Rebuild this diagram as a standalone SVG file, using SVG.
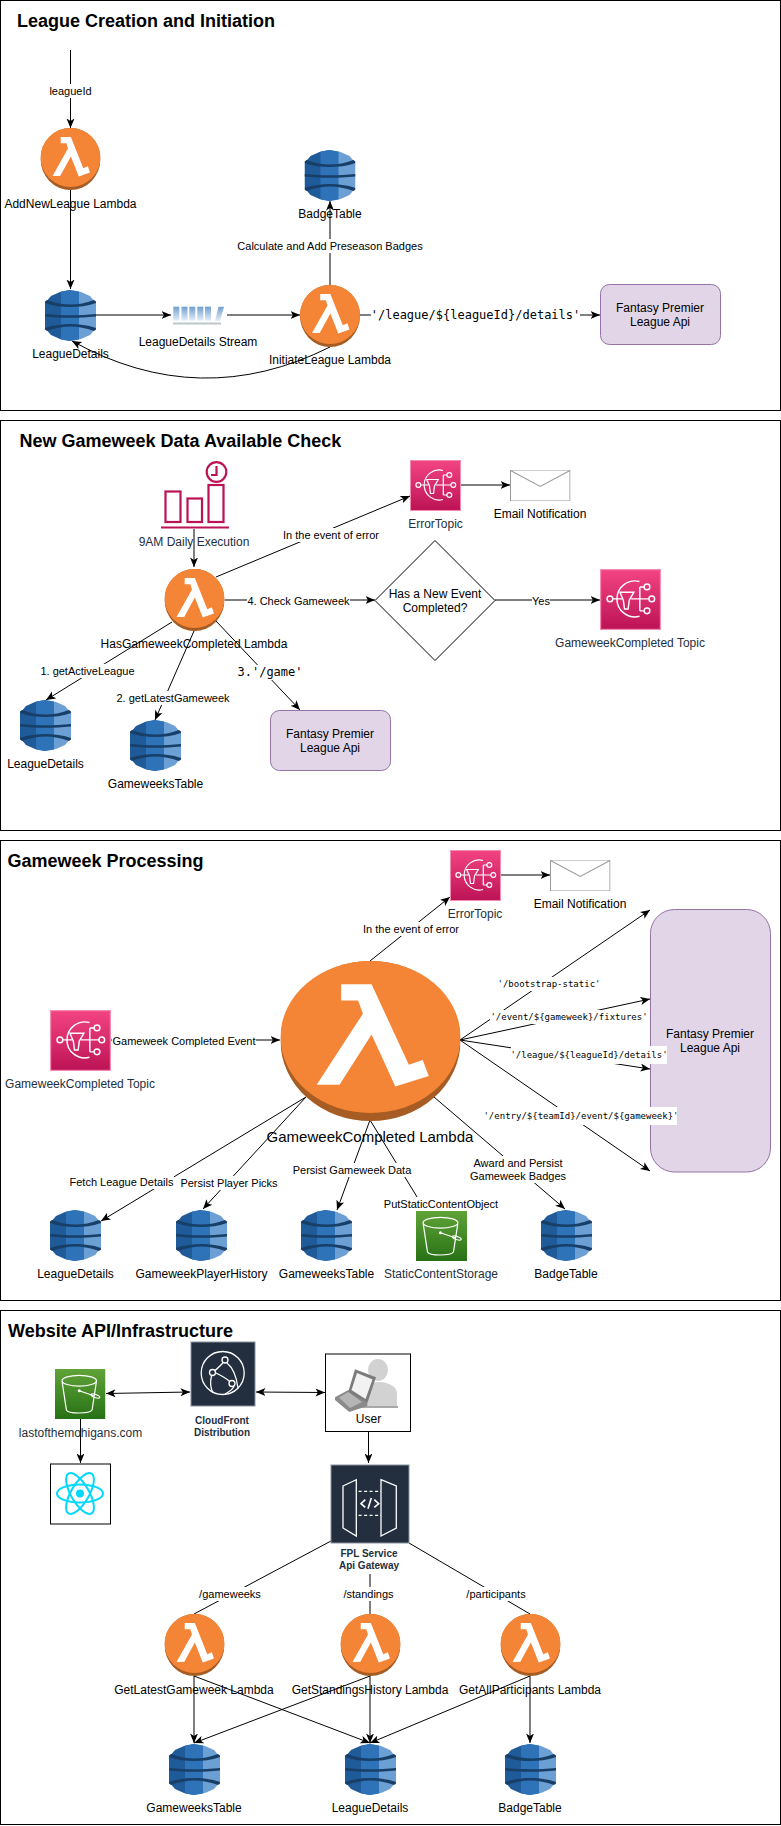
<svg xmlns="http://www.w3.org/2000/svg" width="781" height="1826" viewBox="0 0 781 1826">
<style>
text{font-family:"Liberation Sans",Arial,sans-serif;fill:#000;text-anchor:middle;dominant-baseline:central}
.t{font-size:18px;font-weight:bold;text-anchor:start;dominant-baseline:auto}
.n{font-size:12px}
.d{fill:#232F3E}
.e{font-size:11px}
.s{font-size:10px;font-weight:bold;fill:#232F3E}
.m{font-family:"DejaVu Sans Mono","Liberation Mono",monospace}
.m12{font-size:12px}
.m9{font-size:9px}
.lb{fill:#fff}
.frame{fill:none;stroke:#000;stroke-width:1}
.c{fill:none;stroke:#000;stroke-width:1}
.a{marker-end:url(#arr)}
.b{marker-start:url(#arrs);marker-end:url(#arr)}
.api{fill:#e1d5e7;stroke:#9673a6;stroke-width:1}
.mail{fill:#fff;stroke:#999;stroke-width:1}
.box{fill:#fff;stroke:#000;stroke-width:1}
.sc{fill:none;stroke:#BC1356;stroke-width:2.2}
</style>
<defs>
<marker id="arr" viewBox="0 0 10 10" refX="9.5" refY="5" markerWidth="10" markerHeight="10" markerUnits="userSpaceOnUse" orient="auto"><path d="M0 1 L9.5 5 L0 9 L2.4 5 Z" fill="#000"/></marker>
<marker id="arrs" viewBox="0 0 10 10" refX="0.5" refY="5" markerWidth="10" markerHeight="10" markerUnits="userSpaceOnUse" orient="auto"><path d="M10 1 L0.5 5 L10 9 L7.6 5 Z" fill="#000"/></marker>
<linearGradient id="gs" x1="0" y1="0" x2="0" y2="1"><stop offset="0" stop-color="#F34482"/><stop offset="1" stop-color="#BC1356"/></linearGradient>
<linearGradient id="g3" x1="0" y1="0" x2="0" y2="1"><stop offset="0" stop-color="#60A337"/><stop offset="1" stop-color="#277116"/></linearGradient>
<linearGradient id="gk" x1="0" y1="0" x2="0" y2="1"><stop offset="0" stop-color="#6F9FD0"/><stop offset="1" stop-color="#E6EEF7"/></linearGradient>
<symbol id="lambda" viewBox="0 0 100 100" preserveAspectRatio="none">
<ellipse cx="50" cy="50" rx="50" ry="50" fill="#A65C22"/>
<ellipse cx="50" cy="47.5" rx="50" ry="47.5" fill="#F58536"/>
<path d="M33.7 14.5H50.6L71.3 64.8L79 61.8L82.4 71.9L63.8 78.4L50.6 45.9L32.8 77.4H20.1L45.8 32.9L43.1 24.7H33.7Z" fill="#fff"/>
</symbol>
<symbol id="dynamo" viewBox="0 0 51 51" preserveAspectRatio="none">
<path d="M15 2 L25 0 L25 51 L15 49 L6 45 L0 38 L0 13 L6 6Z" fill="#205B99"/>
<path d="M36 2 L25 0 L25 51 L36 49 L45 45 L51 38 L51 13 L45 6Z" fill="#6C9FD4"/>
<path d="M16 1.500 L25 0 L34 1.500 L34 49.500 L25 51 L16 49.500Z" fill="#2E73B8"/>
<path d="M0 11.500 L2 10 C10 13 18 14.500 25.500 14.500 C33 14.500 41 13 49 10 L51 11.500 L51 13 C42 16 34 17 25.500 17 C17 17 9 16 0 13Z" fill="#173F68"/>
<path d="M0 24 C9 25 17 25.200 25.500 25.200 C34 25.200 42 25 51 24 L51 26.500 C42 27.500 34 27.800 25.500 27.800 C17 27.800 9 27.500 0 26.500Z" fill="#173F68"/>
<path d="M0 38 C9 35 17 34 25.500 34 C34 34 42 35 51 38 L51 39.500 L49 41 C41 38 33 36.500 25.500 36.500 C18 36.500 10 38 2 41 L0 39.500Z" fill="#173F68"/>
</symbol>
<symbol id="sns" viewBox="0 0 51 51" preserveAspectRatio="none">
<rect x=".5" y=".5" width="50" height="50" fill="url(#gs)" stroke="#F58AB0"/>
<g fill="none" stroke="#fff" stroke-width="1.200">
<path d="M33 10.500A15 15 0 1 0 33 39.500"/>
<path d="M16.700 19.500H28.300L24.500 26L23.500 33.500H20.500L19.500 26Z"/>
<path d="M10.700 25H18.500M26 25H41M33.300 15V35M33.300 15H37M33.300 35H37"/>
<circle cx="8.300" cy="25" r="2.400"/><circle cx="39.300" cy="15" r="2.400"/><circle cx="43.300" cy="25" r="2.400"/><circle cx="39.300" cy="35" r="2.400"/>
</g>
</symbol>
<symbol id="s3" viewBox="0 0 50 50" preserveAspectRatio="none">
<rect width="50" height="50" fill="url(#g3)"/>
<g fill="none" stroke="#fff" stroke-width="1.200">
<ellipse cx="24" cy="11.700" rx="17" ry="5.400"/>
<path d="M7 12.500L11.300 41C13 45 34 45 36.700 41L41 12.500"/>
<path d="M24 21.700L39 27"/><ellipse cx="40" cy="27" rx="4.500" ry="1.600" transform="rotate(20 40 27)"/>
</g><circle cx="24" cy="21.700" r="1.500" fill="#fff"/>
</symbol>
<symbol id="mail" viewBox="0 0 60 30" preserveAspectRatio="none">
<rect x=".5" y=".5" width="59" height="29.500" class="mail"/><path d="M.5 .5L30 16L59.500 .5" class="mail" fill="none"/>
</symbol>
</defs>

<g id="frames">
<rect class="frame" x="0.500" y="0.500" width="780" height="410"/>
<rect class="frame" x="0.500" y="420.500" width="780" height="410"/>
<rect class="frame" x="0.500" y="840.500" width="780" height="460"/>
<rect class="frame" x="0.500" y="1310.500" width="780" height="514"/>
</g>

<g id="connectors">
<path class="c a" d="M70.500 50V128"/>
<path class="c a" d="M70.500 190V289"/>
<path class="c a" d="M96 315H171"/>
<path class="c a" d="M227 315H300"/>
<path class="c a" d="M330 347Q200 412 72 341"/>
<path class="c a" d="M330 285V201"/>
<path class="c a" d="M360 315H600"/>

<path class="c a" d="M194 529V567"/>
<path class="c a" d="M216 577L410 496"/>
<path class="c a" d="M461 485H510"/>
<path class="c a" d="M224.500 600H375"/>
<path class="c a" d="M495 600L600 600"/>
<path class="c a" d="M172 622L46 700"/>
<path class="c a" d="M194 631L155 720"/>
<path class="c a" d="M216 621L300 710"/>

<path class="c a" d="M110.500 1040H280"/>
<path class="c a" d="M370 961L450 897"/>
<path class="c a" d="M500.500 875H550"/>
<path class="c a" d="M460 1040L650 910"/>
<path class="c a" d="M460 1040L650 999"/>
<path class="c a" d="M460 1040L650 1069"/>
<path class="c a" d="M460 1040L650 1171"/>
<path class="c a" d="M306 1097L101 1221"/>
<path class="c a" d="M306 1097L203 1209"/>
<path class="c a" d="M370 1120L337 1210"/>
<path class="c" d="M370 1120L425 1210"/>
<path class="c a" d="M434 1097L565 1209"/>

<path class="c a" d="M80.500 1419V1463"/>
<path class="c b" d="M106 1393.500L190 1392"/>
<path class="c b" d="M256 1392L325 1392.500"/>
<path class="c a" d="M368.500 1432V1463"/>
<path class="c" d="M331 1541L194 1614"/>
<path class="c" d="M370 1574V1614"/>
<path class="c" d="M409 1543L530 1614"/>
<path class="c a" d="M194 1676V1743"/>
<path class="c a" d="M194 1676L370 1743"/>
<path class="c a" d="M370 1676L194 1743"/>
<path class="c a" d="M370 1676V1743"/>
<path class="c a" d="M530 1676L370 1743"/>
<path class="c a" d="M530 1676V1743"/>
</g>

<g id="section-1">
<text class="t" x="17" y="26.500">League Creation and Initiation</text>
<g id="n-leagueid-label"><rect class="lb" x="49" y="84" width="44" height="14"/><text class="e" x="70.500" y="91">leagueId</text></g>
<g id="n-addnewleague"><use href="#lambda" x="40.500" y="128" width="60" height="62"/><text class="n" x="70.500" y="204">AddNewLeague Lambda</text></g>
<g id="n-leaguedetails1"><use href="#dynamo" x="45" y="290" width="51" height="51"/><text class="n" x="70.500" y="354">LeagueDetails</text></g>
<g id="n-stream"><g>
<rect x="173.300" y="306.700" width="6" height="14" fill="url(#gk)"/><rect x="181.500" y="306.700" width="6" height="14" fill="url(#gk)"/><rect x="189.300" y="306.700" width="6" height="14" fill="url(#gk)"/><rect x="197.300" y="306.700" width="6" height="14" fill="url(#gk)"/><rect x="205" y="306.700" width="6" height="14" fill="url(#gk)"/>
<path d="M215 321L218.500 306.700H224L220 321Z" fill="url(#gk)"/><rect x="173" y="322.500" width="48" height="2" fill="#BFC6CC"/></g>
<text class="n" x="198" y="342">LeagueDetails Stream</text></g>
<g id="n-initiate"><use href="#lambda" x="300" y="285" width="60" height="62"/><text class="n" x="330" y="360">InitiateLeague Lambda</text></g>
<g id="n-badge1"><use href="#dynamo" x="304.500" y="150" width="51" height="51"/><text class="n" x="330" y="214">BadgeTable</text></g>
<g id="l-1"><rect class="lb" x="237" y="239" width="187" height="14"/><text class="e" x="330" y="246">Calculate and Add Preseason Badges</text></g>
<g id="l-2"><rect class="lb" x="371" y="308" width="209" height="14"/><text class="m m12" x="475.500" y="315">'/league/${leagueId}/details'</text></g>
<g id="n-api1"><rect class="api" x="600.500" y="284.500" width="120" height="60" rx="9"/><text class="n" x="660" y="308">Fantasy Premier</text><text class="n" x="660" y="322">League Api</text></g>
</g>

<g id="section-2">
<text class="t" x="19.500" y="446.500">New Gameweek Data Available Check</text>
<g id="n-schedule">
<rect class="sc" x="165.500" y="491.500" width="15" height="30.500"/><rect class="sc" x="187.500" y="498.500" width="14.500" height="23.500"/><rect class="sc" x="208.500" y="485" width="15" height="37" />
<path class="sc" d="M161 527.500H229" stroke-width="2.800"/>
<circle class="sc" cx="216.500" cy="472" r="9.800"/><path class="sc" d="M216.500 466V475H211" stroke-width="2"/>
<text class="n d" x="194" y="542">9AM Daily Execution</text></g>
<g id="n-hasgameweek"><use href="#lambda" x="164.500" y="569" width="60" height="62"/><text class="n" x="194" y="644">HasGameweekCompleted Lambda</text></g>
<g id="l-3"><rect class="lb" x="282" y="528" width="98" height="14"/><text class="e" x="331" y="535">In the event of error</text></g>
<g id="n-error1"><use href="#sns" x="410" y="460" width="51" height="51"/><text class="n d" x="435.500" y="524">ErrorTopic</text></g>
<g id="n-mail1"><use href="#mail" x="510" y="470" width="60.500" height="31"/><text class="n" x="540" y="514">Email Notification</text></g>
<g id="l-4"><rect class="lb" x="247" y="594" width="103" height="14"/><text class="e" x="298.500" y="601">4. Check Gameweek</text></g>
<g id="n-decision"><path d="M435 540.500L495 600.500L435 660.500L375 600.500Z" fill="#fff" stroke="#000"/><text class="n" x="435" y="594">Has a New Event</text><text class="n" x="435" y="608">Completed?</text></g>
<g id="l-5"><rect class="lb" x="532" y="594" width="18" height="14"/><text class="e" x="541" y="601">Yes</text></g>
<g id="n-completed1"><use href="#sns" x="600" y="569" width="61" height="61"/><text class="n d" x="630" y="643">GameweekCompleted Topic</text></g>
<g id="l-6"><rect class="lb" x="40" y="664" width="95" height="14"/><text class="e" x="87.500" y="671">1. getActiveLeague</text></g>
<g id="n-ld2"><use href="#dynamo" x="20" y="700" width="51" height="51"/><text class="n" x="45.500" y="764">LeagueDetails</text></g>
<g id="l-7"><rect class="lb" x="116" y="691" width="115" height="14"/><text class="e" x="173" y="698">2. getLatestGameweek</text></g>
<g id="n-gw2"><use href="#dynamo" x="130" y="720" width="51" height="51"/><text class="n" x="155.500" y="784">GameweeksTable</text></g>
<g id="l-8"><rect class="lb" x="238" y="665" width="65" height="15"/><text class="m m12" x="270" y="672">3.'/game'</text></g>
<g id="n-api2"><rect class="api" x="270.500" y="710.500" width="120" height="60" rx="9"/><text class="n" x="330" y="734">Fantasy Premier</text><text class="n" x="330" y="748">League Api</text></g>
</g>

<g id="section-3">
<text class="t" x="7.500" y="866.500">Gameweek Processing</text>
<g id="n-completed2"><use href="#sns" x="50" y="1010" width="61" height="61"/><text class="n d" x="80" y="1084">GameweekCompleted Topic</text></g>
<g id="l-9"><rect class="lb" x="112" y="1034" width="144" height="14"/><text class="e" x="184" y="1041">Gameweek Completed Event</text></g>
<g id="n-gwlambda"><use href="#lambda" x="280.500" y="961" width="180" height="160"/><text x="370" y="1136" font-size="15">GameweekCompleted Lambda</text></g>
<g id="l-10"><rect class="lb" x="362" y="922" width="98" height="14"/><text class="e" x="411" y="929">In the event of error</text></g>
<g id="n-error2"><use href="#sns" x="450" y="850" width="51" height="51"/><text class="n d" x="475" y="914">ErrorTopic</text></g>
<g id="n-mail2"><use href="#mail" x="550" y="860" width="60.500" height="31"/><text class="n" x="580" y="904">Email Notification</text></g>
<g id="n-api3"><rect class="api" x="650.500" y="909.500" width="120" height="262.500" rx="24"/><text class="n" x="710" y="1034">Fantasy Premier</text><text class="n" x="710" y="1048">League Api</text></g>
<g id="l-11"><rect class="lb" x="497" y="977" width="103" height="14"/><text class="m m9" x="549" y="984">'/bootstrap-static'</text></g>
<g id="l-12"><rect class="lb" x="490" y="1010" width="158" height="14"/><text class="m m9" x="569" y="1017">'/event/${gameweek}/fixtures'</text></g>
<g id="l-13"><rect class="lb" x="511" y="1046" width="156" height="18"/><text class="m m9" x="589" y="1055">'/league/${leagueId}/details'</text></g>
<g id="l-14"><rect class="lb" x="484" y="1107" width="193" height="18"/><text class="m m9" x="581" y="1116">'/entry/${teamId}/event/${gameweek}'</text></g>
<g id="l-15"><rect class="lb" x="69" y="1175" width="105" height="14"/><text class="e" x="121.500" y="1182">Fetch League Details</text></g>
<g id="l-16"><rect class="lb" x="180" y="1176" width="98" height="14"/><text class="e" x="229" y="1183">Persist Player Picks</text></g>
<g id="l-17"><rect class="lb" x="292" y="1163" width="120" height="14"/><text class="e" x="352" y="1170">Persist Gameweek Data</text></g>
<g id="l-18"><rect class="lb" x="382" y="1197" width="117" height="14"/><text class="e" x="441" y="1204">PutStaticContentObject</text></g>
<g id="l-19"><rect class="lb" x="468" y="1156" width="100" height="27"/><text class="e" x="518" y="1163">Award and Persist</text><text class="e" x="518" y="1176">Gameweek Badges</text></g>
<g id="n-ld3"><use href="#dynamo" x="50" y="1210" width="51" height="51"/><text class="n" x="75.500" y="1274">LeagueDetails</text></g>
<g id="n-gph"><use href="#dynamo" x="176" y="1210" width="51" height="51"/><text class="n" x="201.500" y="1274">GameweekPlayerHistory</text></g>
<g id="n-gw3"><use href="#dynamo" x="301" y="1210" width="51" height="51"/><text class="n" x="326.500" y="1274">GameweeksTable</text></g>
<g id="n-s3a"><use href="#s3" x="416" y="1211" width="51" height="50"/><text class="n d" x="441" y="1274">StaticContentStorage</text></g>
<g id="n-badge3"><use href="#dynamo" x="541" y="1210" width="51" height="51"/><text class="n" x="566" y="1274">BadgeTable</text></g>
</g>

<g id="section-4">
<text class="t" x="8" y="1336.500">Website API/Infrastructure</text>
<g id="n-s3b"><use href="#s3" x="55" y="1369" width="50.500" height="50"/><text class="n d" x="80.500" y="1433">lastofthemohigans.com</text></g>
<g id="n-react"><rect class="box" x="50.500" y="1464" width="60" height="60"/>
<g fill="none" stroke="#00D8FF" stroke-width="2"><ellipse cx="80" cy="1493.500" rx="23" ry="9"/><ellipse cx="80" cy="1493.500" rx="23" ry="9" transform="rotate(60 80 1493.500)"/><ellipse cx="80" cy="1493.500" rx="23" ry="9" transform="rotate(120 80 1493.500)"/></g><circle cx="80" cy="1493.500" r="4" fill="#00D8FF"/></g>
<g id="n-cloudfront"><rect x="191" y="1342" width="64" height="64" fill="#232F3E" stroke="#8A94A0"/>
<g fill="none" stroke="#fff" stroke-width="1.300"><circle cx="222.700" cy="1373" r="21.500"/><circle cx="225" cy="1360" r="3"/><circle cx="212.500" cy="1372.500" r="3"/><circle cx="232" cy="1383.500" r="3"/><path d="M222.800 1363C220 1366 217 1369 214.800 1370.500M216 1373C220 1375 226 1378 229.800 1381.500M227 1363C232 1367 236 1373 238 1388M211.500 1376C210 1382 211 1389 213 1393M234 1386.500C232 1390 229 1392 225 1394"/></g>
<text class="s" x="222" y="1420">CloudFront</text><text class="s" x="222" y="1432">Distribution</text></g>
<g id="n-user"><rect class="box" x="325.500" y="1354" width="85" height="77.500"/>
<ellipse cx="378" cy="1370" rx="10" ry="11" fill="#D2D2D2"/><path d="M365 1408V1392C365 1385 372 1382 378 1382C386 1382 397 1385 397 1394V1408Z" fill="#D2D2D2"/><rect x="362" y="1406" width="36" height="2" fill="#A8A8A8"/>
<path d="M335 1397.300L348.300 1390L367.300 1403.300V1406L349.300 1412L335 1400Z" fill="#8A8A8A"/><path d="M339 1397.500L348.500 1392L362 1402L350 1408Z" fill="#B5B5B5"/>
<path d="M355 1369.300L376 1377.300L367.300 1403.300L348.300 1391.700Z" fill="#7C7C7C"/><path d="M357 1373L372.500 1379.500L365.500 1399L351.500 1390Z" fill="#F2F2F2"/>
<text class="n" x="368.500" y="1419">User</text></g>
<g id="n-apigw"><rect x="331" y="1465" width="78" height="78" fill="#232F3E" stroke="#8A94A0"/>
<g fill="none" stroke="#fff" stroke-width="1.300"><path d="M343 1486L356.300 1479.700V1536L343 1528Z"/><path d="M381 1479.700L396.300 1486V1528L381 1536Z"/><path d="M358.600 1491.300H381M358.600 1515.300H381" stroke-dasharray="3 2.500"/><path d="M365.300 1499.700L361 1503.700L365.300 1507.300M374.300 1499.700L378.700 1503.700L374.300 1507.300M371.300 1498L368 1508.700" stroke-width="1.600"/></g>
<text class="s" x="369" y="1553">FPL Service</text><text class="s" x="369" y="1565.500">Api Gateway</text></g>
<g id="l-20"><rect class="lb" x="199" y="1587" width="62" height="14"/><text class="e" x="230" y="1594">/gameweeks</text></g>
<g id="l-21"><rect class="lb" x="343" y="1587" width="52" height="14"/><text class="e" x="368.500" y="1594">/standings</text></g>
<g id="l-22"><rect class="lb" x="466" y="1587" width="60" height="14"/><text class="e" x="496" y="1594">/participants</text></g>
<g id="n-gl1"><use href="#lambda" x="164.500" y="1614" width="60" height="62"/><text class="n" x="194" y="1690">GetLatestGameweek Lambda</text></g>
<g id="n-gl2"><use href="#lambda" x="340.500" y="1614" width="60" height="62"/><text class="n" x="370" y="1690">GetStandingsHistory Lambda</text></g>
<g id="n-gl3"><use href="#lambda" x="500.500" y="1614" width="60" height="62"/><text class="n" x="530" y="1690">GetAllParticipants Lambda</text></g>
<g id="n-gw4"><use href="#dynamo" x="169" y="1744" width="51" height="51"/><text class="n" x="194" y="1808">GameweeksTable</text></g>
<g id="n-ld4"><use href="#dynamo" x="345" y="1744" width="51" height="51"/><text class="n" x="370" y="1808">LeagueDetails</text></g>
<g id="n-badge4"><use href="#dynamo" x="505" y="1744" width="51" height="51"/><text class="n" x="530" y="1808">BadgeTable</text></g>
</g>
</svg>
